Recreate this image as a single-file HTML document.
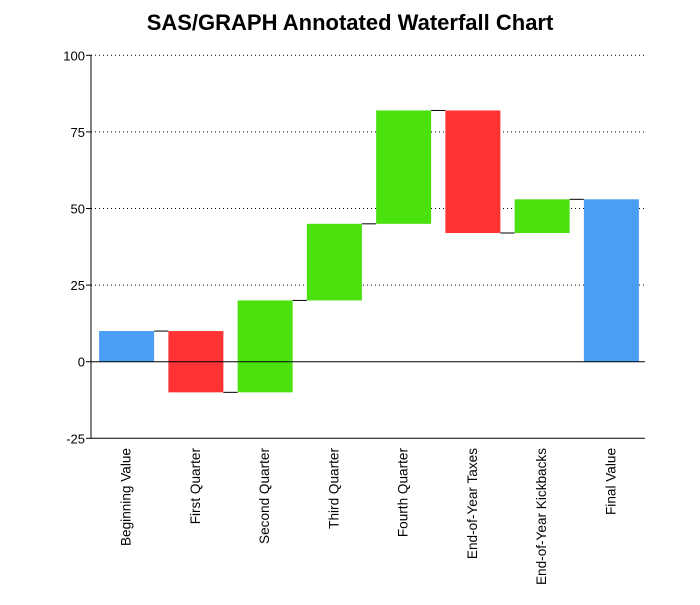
<!DOCTYPE html>
<html><head><meta charset="utf-8"><style>
body{margin:0;background:#fff;}
svg{font-family:"Liberation Sans",sans-serif;}
</style></head><body>
<svg width="700" height="600">
<text x="350" y="30" text-anchor="middle" font-size="22" font-weight="bold">SAS/GRAPH Annotated Waterfall Chart</text>
<g id="plot"></g>
</svg>
<script>
const categories=["Beginning Value","First Quarter","Second Quarter","Third Quarter","Fourth Quarter","End-of-Year Taxes","End-of-Year Kickbacks","Final Value"];
const startVals=[0,10,-10,20,45,82,42,0];
const endVals=[10,-10,20,45,82,42,53,53];
const kinds=["total","neg","pos","pos","pos","neg","pos","total"];
const yTicks=[-25,0,25,50,75,100];
const colors={total:"#4a9ef5",neg:"#ff3333",pos:"#4ae10f"};
const L=91,R=645,T=55.3,B=438.3,ymin=-25,ymax=100;
const y=v=>B-(v-ymin)/(ymax-ymin)*(B-T);
const cw=(R-L)/categories.length;
const x=i=>L+1+i*cw;
const bw=55;
const NS="http://www.w3.org/2000/svg";
const g=document.getElementById('plot');
function mk(t,a){const e=document.createElementNS(NS,t);for(const k in a)e.setAttribute(k,a[k]);g.appendChild(e);return e;}
yTicks.forEach(v=>{
 if(v!==0&&v!==ymin){const l=mk('line',{x1:L,x2:R,y1:y(v),y2:y(v),stroke:'#000','stroke-dasharray':'1,3'});
 
 }
 const tk=mk('line',{x1:L-5,x2:L,y1:y(v),y2:y(v),stroke:'#000'});
 
 
 const t=mk('text',{x:L-6,y:y(v)+5,'text-anchor':'end','font-size':13});
 t.textContent=v;
 
 
});
categories.forEach((c,i)=>{
 const a=startVals[i],b=endVals[i];
 const r=mk('rect',{x:x(i)+(cw-bw)/2,y:y(Math.max(a,b)),width:bw,height:Math.abs(y(a)-y(b)),fill:colors[kinds[i]]});
 
 
 if(i<categories.length-1){
  const cl=mk('line',{x1:x(i)+(cw+bw)/2,x2:x(i+1)+(cw-bw)/2,y1:y(b),y2:y(b),stroke:'#000'});
  
  
 }
 const cx=x(i)+cw/2;
 const t=mk('text',{x:0,y:0,'text-anchor':'end','font-size':13.6,transform:`translate(${cx+4},448) rotate(-90)`});
 t.textContent=c;
 
 
});
const z=mk('line',{x1:L,x2:R,y1:y(0),y2:y(0),stroke:'#000'});


const ya=mk('line',{x1:L,x2:L,y1:T,y2:B,stroke:'#000'});


const xa=mk('line',{x1:L,x2:R,y1:B,y2:B,stroke:'#000'});


</script>
</body></html>
